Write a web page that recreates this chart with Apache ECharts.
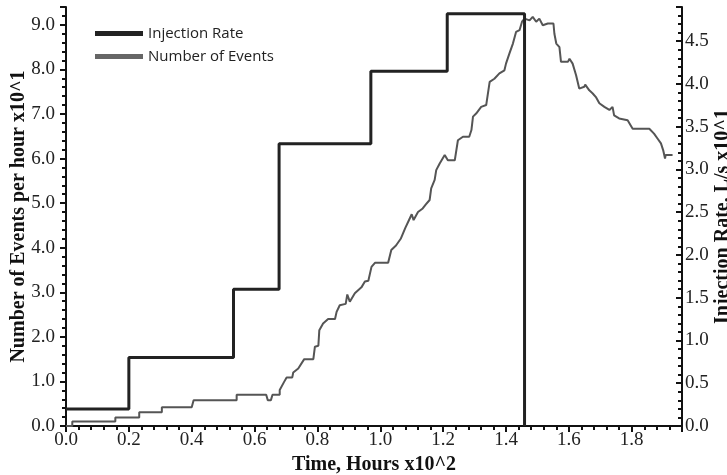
<!DOCTYPE html>
<html>
<head>
<meta charset="utf-8">
<script src="https://cdn.jsdelivr.net/npm/echarts@6/dist/echarts.min.js"></script>
<style>html,body{margin:0;padding:0;background:#fff}#c{width:727px;height:475px}</style>
</head>
<body>
<div id="c"></div>
<script>
// Injection rate (L/s x10^1), step changes at these times (hours x10^2)
const injX = [0, 0.2, 0.533, 0.678, 0.97, 1.213, 1.459];
const injY = [0.2, 0.8, 1.6, 3.3, 4.15, 4.82, 0];

// Number of events per hour (x10^1)
const evX = [0,0.02,0.02,0.157,0.157,0.233,0.233,0.305,0.305,0.40,0.406,0.543,0.543,0.637,0.642,0.652,0.657,0.68,0.68,0.694,0.702,0.72,0.723,0.739,0.758,0.787,0.792,0.803,0.806,0.818,0.834,0.856,0.861,0.871,0.89,0.895,0.903,0.919,0.94,0.951,0.962,0.972,0.983,1.025,1.035,1.05,1.065,1.08,1.09,1.10,1.106,1.12,1.135,1.145,1.157,1.162,1.173,1.178,1.189,1.205,1.215,1.237,1.247,1.263,1.283,1.29,1.295,1.305,1.321,1.337,1.348,1.363,1.379,1.395,1.40,1.411,1.422,1.432,1.443,1.451,1.459,1.475,1.485,1.496,1.506,1.517,1.533,1.551,1.554,1.56,1.57,1.575,1.597,1.602,1.612,1.623,1.633,1.649,1.652,1.665,1.676,1.686,1.697,1.713,1.729,1.739,1.744,1.760,1.787,1.803,1.856,1.871,1.882,1.893,1.90,1.906,1.908,1.93];
const evY = [0,0,0.1,0.1,0.19,0.19,0.31,0.31,0.42,0.42,0.58,0.58,0.70,0.70,0.58,0.58,0.70,0.70,0.81,0.99,1.09,1.09,1.2,1.29,1.5,1.5,1.78,1.80,2.15,2.30,2.40,2.40,2.56,2.71,2.74,2.95,2.79,2.98,3.11,3.24,3.26,3.57,3.66,3.66,3.95,4.05,4.2,4.45,4.6,4.75,4.62,4.8,4.88,4.97,5.07,5.33,5.52,5.74,5.89,6.08,5.96,5.96,6.41,6.49,6.49,6.64,6.94,7.01,7.16,7.20,7.72,7.79,7.91,7.98,8.13,8.36,8.58,8.84,8.88,9.07,9.14,9.10,9.18,9.07,9.14,8.99,9.03,9.03,8.80,8.58,8.50,8.17,8.17,8.24,8.13,7.87,7.57,7.61,7.66,7.53,7.46,7.38,7.24,7.16,7.09,7.16,6.97,6.90,6.86,6.67,6.67,6.56,6.45,6.34,6.19,6.0,6.08,6.08];

const chart = echarts.init(document.getElementById('c'), null, {renderer: 'canvas'});
const serif = '"Liberation Serif", "Times New Roman", serif';
const axisLineStyle = {color: '#111', width: 2};
const fmt = v => v.toFixed(1);

chart.setOption({
  animation: false,
  backgroundColor: '#fff',
  grid: {left: 66, right: 45, top: 7, bottom: 49, containLabel: false, outerBoundsMode: 'none'},
  legend: {
    orient: 'vertical', left: 90, top: 21, itemWidth: 48, itemHeight: 10, itemGap: 8,
    textStyle: {fontFamily: '"Open Sans", sans-serif', fontSize: 15, color: '#222'},
    data: [
      {name: 'Injection Rate', icon: 'path://M0,0L10,0L10,1L0,1Z'},
      {name: 'Number of Events', icon: 'path://M0,0L10,0L10,1L0,1Z'}
    ]
  },
  xAxis: {
    type: 'value', min: 0, max: 1.96, interval: 0.2,
    name: 'Time, Hours x10^2', nameLocation: 'middle', nameGap: 29, nameMoveOverlap: false,
    nameTextStyle: {fontFamily: serif, fontSize: 20, fontWeight: 'bold', color: '#111'},
    axisLine: {show: true, onZero: false, lineStyle: axisLineStyle},
    axisTick: {show: true, inside: false, length: 6, lineStyle: {color: '#111', width: 2}},
    minorTick: {show: true, splitNumber: 5, length: 4, lineStyle: {color: '#111', width: 2}},
    splitLine: {show: false},
    axisLabel: {fontFamily: serif, fontSize: 19, color: '#222', margin: 5, formatter: fmt, showMaxLabel: false}
  },
  yAxis: [
    {
      type: 'value', min: 0, max: 9.4, interval: 1, position: 'left',
      name: 'Number of Events per hour x10^1', nameLocation: 'middle', nameGap: 37, nameRotate: 90, nameMoveOverlap: false,
      nameTextStyle: {fontFamily: serif, fontSize: 20, fontWeight: 'bold', color: '#111'},
      axisLine: {show: true, lineStyle: axisLineStyle},
      axisTick: {show: true, inside: false, length: 6, lineStyle: {color: '#111', width: 2}},
      minorTick: {show: true, splitNumber: 5, length: 4, lineStyle: {color: '#111', width: 2}},
      splitLine: {show: false},
      axisLabel: {fontFamily: serif, fontSize: 19, color: '#222', margin: 11, formatter: fmt, showMaxLabel: false}
    },
    {
      type: 'value', min: 0, max: 4.9, interval: 0.5, position: 'right',
      name: 'Injection Rate, L/s x10^1', nameLocation: 'middle', nameGap: 31, nameRotate: 90, nameMoveOverlap: false,
      nameTextStyle: {fontFamily: serif, fontSize: 20, fontWeight: 'bold', color: '#111'},
      axisLine: {show: true, lineStyle: axisLineStyle},
      axisTick: {show: true, inside: true, length: 6, lineStyle: {color: '#111', width: 2}},
      minorTick: {show: true, splitNumber: 5, length: 4, lineStyle: {color: '#111', width: 2}},
      splitLine: {show: false},
      axisLabel: {fontFamily: serif, fontSize: 19, color: '#222', margin: 3, formatter: fmt, showMaxLabel: false}
    }
  ],
  series: [
    {
      name: 'Injection Rate', type: 'line', yAxisIndex: 1, step: 'end', showSymbol: false,
      data: injX.map((x, i) => [x, injY[i]]),
      lineStyle: {color: '#222', width: 3}, itemStyle: {color: '#222'}, z: 3
    },
    {
      name: 'Number of Events', type: 'line', yAxisIndex: 0, showSymbol: false,
      data: evX.map((x, i) => [x, evY[i]]),
      lineStyle: {color: '#555', width: 2}, itemStyle: {color: '#666'}, z: 2
    }
  ]
});
</script>
</body>
</html>
